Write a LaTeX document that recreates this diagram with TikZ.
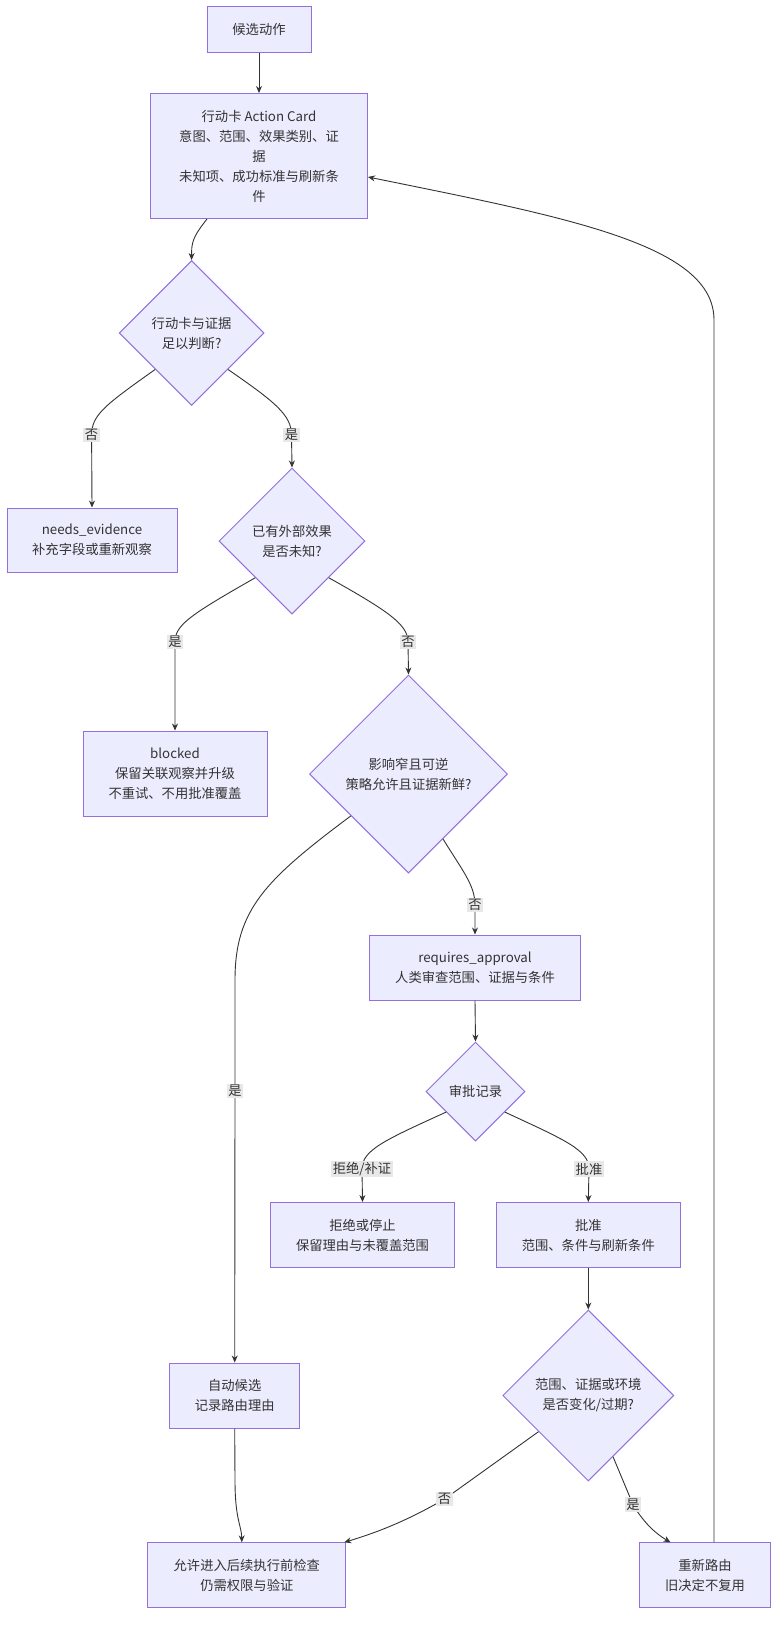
\documentclass[tikz,border=0pt]{standalone}
\usepackage{fontspec}
\setmainfont{Noto Sans CJK SC}
\usetikzlibrary{shapes.geometric,arrows.meta}
\definecolor{nodefill}{HTML}{ECECFF}
\definecolor{nodestroke}{HTML}{9370DB}
\definecolor{linecol}{HTML}{333333}
\definecolor{lblbg}{HTML}{E8E8E8}
\definecolor{txt}{HTML}{333333}
\begin{document}
\begin{tikzpicture}[x=1pt,y=-1pt,
  every node/.style={font=\fontsize{13.3}{20}\selectfont, text=txt},
  box/.style={draw=nodestroke, fill=nodefill, line width=1pt, rectangle, align=center, inner sep=0pt},
  dia/.style={draw=nodestroke, fill=nodefill, line width=1pt, diamond, aspect=1, align=center, inner sep=0pt},
  conn/.style={draw=linecol, line width=0.9pt, -{Stealth[length=7pt,width=6pt]}},
  lbl/.style={fill=lblbg, inner sep=1.5pt}]
\useasboundingbox (0,0) rectangle (784,1633);

\node[box, minimum width=104pt, minimum height=46pt] (cand) at (259,29) {候选动作};
\node[box, minimum width=217pt, minimum height=125pt] (ac) at (259,156) {行动卡 Action Card\\意图、范围、效果类别、证\\据\\未知项、成功标准与刷新条\\件};
\node[dia, minimum width=145pt, minimum height=145pt] (d1) at (191.6,333) {行动卡与证据\\足以判断?};
\node[box, minimum width=170pt, minimum height=64pt] (needs) at (92,540) {needs\_evidence\\补充字段或重新观察};
\node[dia, minimum width=146pt, minimum height=146pt] (d2) at (292,541) {已有外部效果\\是否未知?};
\node[box, minimum width=184pt, minimum height=85pt] (blocked) at (175,773.5) {blocked\\保留关联观察并升级\\不重试、不用批准覆盖};
\node[dia, minimum width=198pt, minimum height=198pt] (d3) at (408.5,774) {影响窄且可逆\\策略允许且证据新鲜?};
\node[box, minimum width=211pt, minimum height=65pt] (req) at (475,967.5) {requires\_approval\\人类审查范围、证据与条件};
\node[dia, minimum width=99pt, minimum height=99pt] (d4) at (475.5,1091.5) {审批记录};
\node[box, minimum width=184pt, minimum height=65pt] (rej) at (362.5,1235) {拒绝或停止\\保留理由与未覆盖范围};
\node[box, minimum width=183.5pt, minimum height=65pt] (pz) at (588.3,1235) {批准\\范围、条件与刷新条件};
\node[box, minimum width=130pt, minimum height=65pt] (auto) at (234.7,1395.5) {自动候选\\记录路由理由};
\node[dia, minimum width=171pt, minimum height=171pt] (d5) at (588.3,1395.5) {范围、证据或环境\\是否变化/过期?};
\node[box, minimum width=198pt, minimum height=65pt] (allow) at (246.8,1575.3) {允许进入后续执行前检查\\仍需权限与验证};
\node[box, minimum width=131pt, minimum height=65pt] (rr) at (705,1575.3) {重新路由\\旧决定不复用};

% edges
\draw[conn] (cand.south) -- (ac.north);
\draw[conn] ([xshift=-52pt]ac.south) .. controls (196,233) and (191.6,240) .. (191.6,252) -- (d1.north);
\draw[conn] (d1.south west) .. controls (105,405) and (91.6,415) .. (91.6,435) node[lbl]{否} -- (needs.north);
\draw[conn] (d1.south east) .. controls (275,402) and (291.5,415) .. (291.5,435) node[lbl]{是} -- (d2.north);
\draw[conn] (d2.south west) .. controls (190,615) and (175,625) .. (175,642) node[lbl]{是} -- (blocked.north);
\draw[conn] (d2.south east) .. controls (390,612) and (408,625) .. (408,642) node[lbl]{否} -- (d3.north);
\draw[conn] (d3.-144) .. controls (265,880) and (235,910) .. (235,980) -- (235,1091) node[lbl]{是} -- (auto.north);
\draw[conn] (d3.-62) .. controls (462,870) and (475,885) .. (475,905) node[lbl]{否} -- (req.north);
\draw[conn] (req.south) -- (d4.north);
\draw[conn] (d4.-145) .. controls (385,1140) and (362,1150) .. (362,1169) node[lbl]{拒绝/补证} -- (rej.north);
\draw[conn] (d4.-35) .. controls (565,1140) and (589,1150) .. (589,1169) node[lbl]{批准} -- (pz.north);
\draw[conn] (pz.south) -- (d5.north);
\draw[conn] (auto.south) -- (235,1480) .. controls (235,1520) and (241.5,1525) .. ([xshift=-5pt]allow.north);
\draw[conn] (d5.-144) -- (444.6,1499) node[lbl]{否} .. controls (405,1522) and (375,1533) .. ([xshift=-2pt]allow.north east);
\draw[conn] (d5.-68) -- (633,1504.6) node[lbl]{是} .. controls (645,1525) and (658,1535) .. ([xshift=-34.5pt]rr.north);
\draw[conn] ([xshift=9pt]rr.north) -- (714,320) .. controls (714,245) and (570,218) .. ([yshift=-21pt]ac.east);
\end{tikzpicture}
\end{document}
